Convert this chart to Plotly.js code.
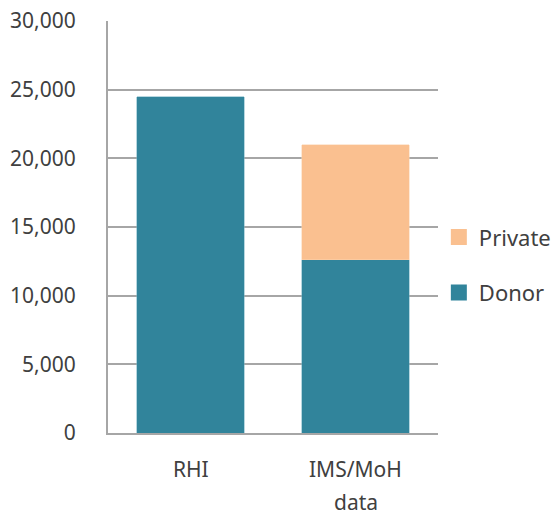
<!DOCTYPE html>
<html><head><meta charset="utf-8">
<script src="https://cdn.plot.ly/plotly-3.0.1.min.js"></script>
<style>html,body{margin:0;padding:0;background:#fff}#chart{width:552px;height:522px}</style>
</head><body><div id="chart"></div>
<script>
var categories = ["RHI", "IMS/MoH<br>data"];
var donorValues = [24500, 12600];
var privateValues = [null, 8400];
var yTickVals = [0, 5000, 10000, 15000, 20000, 25000, 30000];
var yTickText = ["0", "5,000", "10,000", "15,000", "20,000", "25,000", "30,000"];
var donorColor = "#31849B", privateColor = "#FAC090";

var fontFam = "Noto Sans, Open Sans, sans-serif";
var txtColor = "#404040";
var traces = [
  {type: "bar", name: "Donor", x: categories, y: donorValues, showlegend: false,
   marker: {color: donorColor, line: {color: "#6fb0c2", width: 0.5}}},
  {type: "bar", name: "Private", x: categories, y: privateValues, showlegend: false,
   marker: {color: privateColor, line: {color: "#fcd3b0", width: 0.5}}},
  {type: "scatter", mode: "markers", name: "Donor", x: [categories[0]], y: [null], legendgroup: "d", legendrank: 2,
   marker: {symbol: "square", size: 16, color: donorColor}},
  {type: "scatter", mode: "markers", name: "Private", x: [categories[0]], y: [null], legendgroup: "p", legendrank: 1,
   marker: {symbol: "square", size: 16, color: privateColor}}
];
var annotations = [];
categories.forEach(function (c) {
  c.split("<br>").forEach(function (line, i) {
    annotations.push({x: c, y: 0, xref: "x", yref: "y", text: line, showarrow: false,
      yanchor: "top", yshift: -20 - 33 * i, font: {family: fontFam, size: 21, color: txtColor}});
  });
});
var layout = {
  width: 552, height: 522,
  margin: {l: 108, r: 114, t: 21, b: 89},
  barmode: "stack", bargap: 0.35,
  paper_bgcolor: "#fff", plot_bgcolor: "#fff",
  font: {family: fontFam, size: 21, color: txtColor},
  showlegend: true,
  legend: {xref: "container", yref: "container", x: 0.795, xanchor: "left", y: 0.586, yanchor: "top",
           traceorder: "grouped", tracegroupgap: 24, itemsizing: "trace",
           font: {size: 22, color: txtColor}, itemwidth: 30, bgcolor: "rgba(0,0,0,0)"},
  annotations: annotations,
  xaxis: {showline: true, linecolor: "#a6a6a6", linewidth: 2, ticks: "", showgrid: false,
          showticklabels: false},
  yaxis: {range: [0, 30000], tickvals: yTickVals, ticktext: yTickText, showgrid: true,
          gridcolor: "#a6a6a6", gridwidth: 2, showline: true, linecolor: "#a6a6a6", linewidth: 2,
          ticks: "", zeroline: false, tickfont: {size: 21, color: txtColor}, ticklabelstandoff: 26}
};
Plotly.newPlot("chart", traces, layout, {displayModeBar: false, staticPlot: true});
</script></body></html>
